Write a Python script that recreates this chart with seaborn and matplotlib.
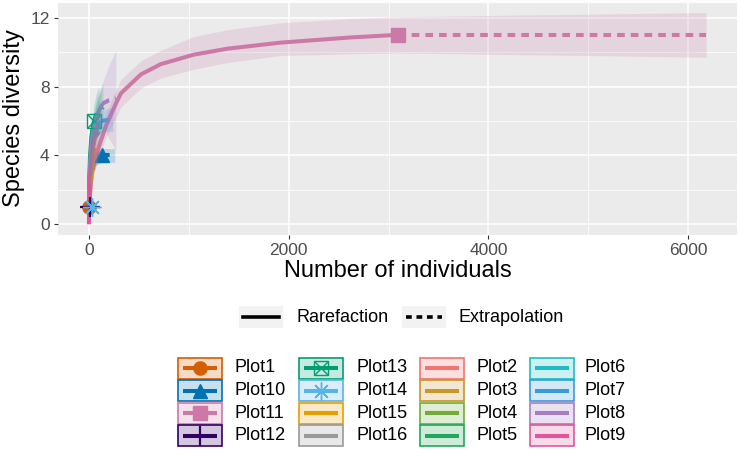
import numpy as np
import pandas as pd
import matplotlib
matplotlib.use("Agg")
import matplotlib.pyplot as plt
import seaborn as sns
from matplotlib.patches import Rectangle

# ---------------- data ----------------
plots = ["Plot1", "Plot10", "Plot11", "Plot12", "Plot13", "Plot14", "Plot15", "Plot16",
         "Plot2", "Plot3", "Plot4", "Plot5", "Plot6", "Plot7", "Plot8", "Plot9"]
colors = ["#D55E00", "#0072B2", "#CC79A7", "#330066", "#009E73", "#56B4E9", "#E69F00", "#999999",
          "#F07470", "#C8962A", "#72AB3A", "#20A85A", "#1DBDC0", "#3A9BDB", "#A77DC2", "#E0579E"]
n_ref = [3, 130, 3090, 15, 50, 30, 20, 60, 40, 25, 30, 70, 60, 120, 135, 50]
s_obs = [1, 4, 11, 1, 6, 1, 3, 5, 4, 3, 4, 6, 6, 6, 7, 5]

plot1_m = [1, 3, 6]
plot1_qd = [1, 1, 1]
plot1_lo = [1, 1, 1]
plot1_hi = [1, 1, 1]

plot10_m = [1, 5, 15, 40, 80, 130, 200, 260]
plot10_qd = [1, 2.3, 3.1, 3.6, 3.85, 4, 4, 4]
plot10_lo = [1, 2.0, 2.7, 3.2, 3.45, 3.6, 3.6, 3.6]
plot10_hi = [1, 2.6, 3.5, 4.0, 4.25, 4.4, 4.4, 4.4]

plot11_m = [1, 30, 100, 170, 270, 320, 520, 720, 1050, 1390, 1920, 2620, 3090,
            3700, 4300, 5000, 5600, 6180]
plot11_qd = [1, 3.0, 4.5, 5.7, 7.0, 7.6, 8.7, 9.3, 9.85, 10.2, 10.55, 10.85, 11.0,
             11.0, 11.0, 11.0, 11.0, 11.0]
plot11_lo = [1, 2.6, 3.9, 5.0, 6.2, 6.8, 7.9, 8.5, 9.0, 9.4, 9.8, 9.9, 9.95,
             9.9, 9.85, 9.8, 9.75, 9.7]
plot11_hi = [1, 3.4, 5.1, 6.4, 7.8, 8.4, 9.5, 10.1, 10.9, 11.3, 11.7, 11.95, 12.05,
             12.1, 12.15, 12.2, 12.25, 12.3]

plot12_m = [1, 15, 30]
plot12_qd = [1, 1, 1]
plot12_lo = [1, 1, 1]
plot12_hi = [1, 1, 1]

plot13_m = [1, 5, 12, 25, 50, 75, 100]
plot13_qd = [1, 2.8, 4.0, 5.1, 6, 6.4, 6.6]
plot13_lo = [1, 2.4, 3.4, 4.4, 5.1, 5.2, 5.2]
plot13_hi = [1, 3.2, 4.6, 5.8, 6.9, 7.6, 8.0]

plot14_m = [1, 30, 60]
plot14_qd = [1, 1, 1]
plot14_lo = [1, 1, 1]
plot14_hi = [1, 1, 1]

plot15_m = [1, 5, 10, 20, 40]
plot15_qd = [1, 1.9, 2.4, 3, 3.4]
plot15_lo = [1, 1.6, 2.0, 2.5, 2.6]
plot15_hi = [1, 2.2, 2.8, 3.5, 4.2]

plot16_m = [1, 10, 30, 60, 120]
plot16_qd = [1, 2.8, 4.1, 5, 5.5]
plot16_lo = [1, 2.4, 3.5, 4.3, 4.4]
plot16_hi = [1, 3.2, 4.7, 5.7, 6.6]

plot2_m = [1, 10, 25, 40, 80]
plot2_qd = [1, 2.7, 3.6, 4, 4.4]
plot2_lo = [1, 2.3, 3.1, 3.4, 3.5]
plot2_hi = [1, 3.1, 4.1, 4.6, 5.3]

plot3_m = [1, 8, 16, 25, 50]
plot3_qd = [1, 2.1, 2.7, 3, 3.3]
plot3_lo = [1, 1.8, 2.3, 2.5, 2.6]
plot3_hi = [1, 2.4, 3.1, 3.5, 4.0]

plot4_m = [1, 8, 18, 30, 60]
plot4_qd = [1, 2.4, 3.3, 4, 4.5]
plot4_lo = [1, 2.0, 2.8, 3.4, 3.5]
plot4_hi = [1, 2.8, 3.8, 4.6, 5.5]

plot5_m = [1, 10, 30, 50, 70, 140]
plot5_qd = [1, 3, 4.5, 5.4, 6, 6.8]
plot5_lo = [1, 2.6, 3.9, 4.7, 5.2, 5.4]
plot5_hi = [1, 3.4, 5.1, 6.1, 6.8, 8.2]

plot6_m = [1, 10, 25, 45, 60, 120]
plot6_qd = [1, 3.2, 4.6, 5.5, 6, 6.6]
plot6_lo = [1, 2.8, 4.0, 4.8, 5.2, 5.3]
plot6_hi = [1, 3.6, 5.2, 6.2, 6.8, 7.9]

plot7_m = [1, 15, 40, 80, 120, 180, 240]
plot7_qd = [1, 3.5, 4.8, 5.6, 6, 6.05, 6.1]
plot7_lo = [1, 3.1, 4.3, 5.0, 5.4, 5.4, 5.4]
plot7_hi = [1, 3.9, 5.3, 6.2, 6.6, 6.7, 6.8]

plot8_m = [1, 15, 40, 80, 135, 200, 270]
plot8_qd = [1, 3.6, 5.2, 6.3, 7, 7.2, 7.3]
plot8_lo = [1, 3.0, 4.5, 5.3, 5.8, 5.0, 4.3]
plot8_hi = [1, 4.2, 5.9, 7.3, 8.2, 9.2, 10.1]

plot9_m = [0, 10, 25, 50, 100]
plot9_qd = [0, 2.5, 3.8, 5, 5.6]
plot9_lo = [0, 2.1, 3.3, 4.3, 4.4]
plot9_hi = [0, 2.9, 4.3, 5.7, 6.8]

curves = {
    "Plot1": (plot1_m, plot1_qd, plot1_lo, plot1_hi),
    "Plot10": (plot10_m, plot10_qd, plot10_lo, plot10_hi),
    "Plot11": (plot11_m, plot11_qd, plot11_lo, plot11_hi),
    "Plot12": (plot12_m, plot12_qd, plot12_lo, plot12_hi),
    "Plot13": (plot13_m, plot13_qd, plot13_lo, plot13_hi),
    "Plot14": (plot14_m, plot14_qd, plot14_lo, plot14_hi),
    "Plot15": (plot15_m, plot15_qd, plot15_lo, plot15_hi),
    "Plot16": (plot16_m, plot16_qd, plot16_lo, plot16_hi),
    "Plot2": (plot2_m, plot2_qd, plot2_lo, plot2_hi),
    "Plot3": (plot3_m, plot3_qd, plot3_lo, plot3_hi),
    "Plot4": (plot4_m, plot4_qd, plot4_lo, plot4_hi),
    "Plot5": (plot5_m, plot5_qd, plot5_lo, plot5_hi),
    "Plot6": (plot6_m, plot6_qd, plot6_lo, plot6_hi),
    "Plot7": (plot7_m, plot7_qd, plot7_lo, plot7_hi),
    "Plot8": (plot8_m, plot8_qd, plot8_lo, plot8_hi),
    "Plot9": (plot9_m, plot9_qd, plot9_lo, plot9_hi),
}

# ---------------- long table ----------------
rows = []
for p, n in zip(plots, n_ref):
    m, qd, lo, hi = curves[p]
    for mi, qi, li, hi_ in zip(m, qd, lo, hi):
        if mi <= n:
            rows.append((p, "Rarefaction", mi, qi, li, hi_))
        if mi >= n:
            rows.append((p, "Extrapolation", mi, qi, li, hi_))
df = pd.DataFrame(rows, columns=["site", "method", "m", "qD", "lo", "hi"])
df["site"] = pd.Categorical(df["site"], categories=plots, ordered=True)

palette = dict(zip(plots, colors))

plt.rcParams["font.family"] = ["Liberation Sans", "DejaVu Sans"]

fig = plt.figure(figsize=(7.39, 4.5), dpi=100)
W, H = 739, 450
ax = fig.add_axes([58 / W, 1 - 235 / H, (737 - 58) / W, (235 - 3) / H])
ax.set_facecolor("#EBEBEB")
for s in ax.spines.values():
    s.set_visible(False)

LW = 2.9
DASH = (1.9, 1.5)

sns.lineplot(data=df, x="m", y="qD", hue="site", style="method",
             hue_order=plots, style_order=["Rarefaction", "Extrapolation"],
             palette=palette, dashes={"Rarefaction": "", "Extrapolation": DASH},
             estimator=None, sort=False, linewidth=LW, legend=False, ax=ax, zorder=3)
for line in ax.get_lines():
    line.set_dash_capstyle("butt")
    line.set_solid_capstyle("butt")

marker_specs = {
    "Plot1": [dict(marker="o", markersize=9.5)],
    "Plot10": [dict(marker="^", markersize=10.5)],
    "Plot11": [dict(marker="s", markersize=9.5)],
    "Plot12": [dict(marker="+", markersize=14, markeredgewidth=1.6)],
    "Plot13": [dict(marker="s", markersize=10, fillstyle="none", markeredgewidth=1.0),
               dict(marker="x", markersize=10, markeredgewidth=1.0)],
    "Plot14": [dict(marker=(8, 2, 0), markersize=13, markeredgewidth=1.0)],
}

for p, n, s, c in zip(plots, n_ref, s_obs, colors):
    for spec in marker_specs.get(p, []):
        ax.plot([n], [s], linestyle="none", color=c, zorder=4, **spec)

for p, c in zip(plots, colors):
    m, qd, lo, hi = curves[p]
    ax.fill_between(m, lo, hi, color=c, alpha=0.2, linewidth=0, zorder=5)

ax.set_xlim(-309, 6489)
ax.set_ylim(-0.62, 12.85)
ax.set_xticks([0, 2000, 4000, 6000])
ax.set_xticks([1000, 3000, 5000], minor=True)
ax.set_yticks([0, 4, 8, 12])
ax.set_yticks([2, 6, 10], minor=True)
ax.grid(which="major", color="white", linewidth=1.1, zorder=0)
ax.grid(which="minor", color="white", linewidth=0.55, zorder=0)
ax.set_axisbelow(True)
ax.tick_params(which="major", length=3, width=0.8, color="#333333", labelcolor="#4D4D4D",
               labelsize=12.5, pad=3)
ax.tick_params(which="minor", length=0)
ax.set_xlabel("")
ax.set_ylabel("")

fig.text(398 / W, 1 - 271 / H, "Number of individuals", ha="center", va="center",
         fontsize=17, color="black")
fig.text(14 / W, 1 - 118 / H, "Species diversity", ha="center", va="center",
         rotation=90, fontsize=17, color="black")

# ---------------- legends (drawn in pixel coordinates) ----------------
lg = fig.add_axes([0, 0, 1, 1], zorder=10)
lg.set_xlim(0, W)
lg.set_ylim(H, 0)
lg.axis("off")
lg.patch.set_alpha(0)

# linetype legend
lt_keys = [("Rarefaction", 239, 296), ("Extrapolation", 402, 458)]
for lab, kx, tx in lt_keys:
    lg.add_patch(Rectangle((kx, 306), 44, 22, facecolor="#F2F2F2", edgecolor="none"))
    ls = "-" if lab == "Rarefaction" else (0, (1.6, 1.3))
    ln, = lg.plot([kx + 4, kx + 40], [317, 317], color="black", linewidth=2.6, linestyle=ls)
    ln.set_dash_capstyle("butt")
    lg.text(tx, 317, lab, ha="left", va="center", fontsize=13, color="black")

# colour / shape legend
col_key_x = [178, 299, 420, 530]
col_lab_x = [235, 356, 476, 585]
row_y = [368, 390.5, 413, 435.5]
for i, (p, c) in enumerate(zip(plots, colors)):
    col, row = divmod(i, 4)
    kx, ky = col_key_x[col], row_y[row]
    lg.add_patch(Rectangle((kx, ky - 10.5), 44, 21, facecolor=c, alpha=0.22, edgecolor="none"))
    lg.add_patch(Rectangle((kx, ky - 10.5), 44, 21, facecolor="none", edgecolor=c, linewidth=1.2))
    lg.plot([kx + 5, kx + 39], [ky, ky], color=c, linewidth=LW, solid_capstyle="butt")
    for spec in marker_specs.get(p, []):
        lg.plot([kx + 22], [ky], linestyle="none", color=c, **spec)
    lg.text(col_lab_x[col], ky, p, ha="left", va="center", fontsize=13, color="black")

fig.savefig("out.png", dpi=100, facecolor="white")
